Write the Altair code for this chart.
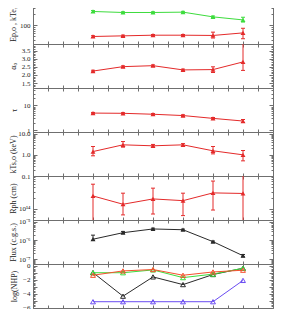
import altair as alt
import pandas as pd

# ---------------- data ----------------
x_pos = [2, 3, 4, 5, 6, 7]

ep_o = [48.5, 50.5, 52.7, 52.7, 51.8, 61.0]
ep_o_lo = [46.0, 48.5, 50.5, 50.5, 44.0, 42.0]
ep_o_hi = [51.0, 53.0, 55.0, 55.0, 64.0, 82.0]
kte_o = [240, 225, 225, 230, 170, 140]
kte_o_lo = [226, 215, 215, 220, 162, 122]
kte_o_hi = [256, 236, 236, 242, 180, 166]

alpha_o = [2.24, 2.51, 2.57, 2.31, 2.33, 2.80]
alpha_o_lo = [2.19, 2.46, 2.52, 2.26, 2.15, 2.28]
alpha_o_hi = [2.29, 2.56, 2.62, 2.36, 2.50, 4.50]

tau = [4.9, 4.8, 4.4, 3.9, 3.0, 2.35]
tau_lo = [4.6, 4.5, 4.1, 3.6, 2.8, 2.05]
tau_hi = [5.2, 5.1, 4.7, 4.2, 3.25, 2.7]

kts_o = [1.43, 2.97, 2.67, 2.97, 1.55, 1.00]
kts_o_lo = [0.90, 2.31, 2.35, 2.60, 1.11, 0.52]
kts_o_hi = [2.47, 4.25, 3.10, 3.40, 2.47, 1.60]

rph = [2.3e14, 1.35e14, 1.9e14, 1.7e14, 2.8e14, 2.7e14]
rph_lo = [1.0e13, 6.8e13, 7.2e13, 6.5e13, 9.3e13, 1.0e13]
rph_hi = [4.9e14, 2.75e14, 3.8e14, 2.75e14, 6.0e14, 1.2e15]

flux = [1.15e-6, 2.57e-6, 4.07e-6, 3.70e-6, 8.5e-7, 1.5e-7]
flux_lo = [1.0e-6, 2.3e-6, 3.7e-6, 3.4e-6, 7.9e-7, 1.3e-7]
flux_hi = [1.9e-6, 3.0e-6, 4.5e-6, 4.0e-6, 9.2e-7, 1.75e-7]

nhp_blue = [-5.15, -5.15, -5.15, -5.15, -5.15, -2.10]
nhp_black = [-0.98, -4.36, -1.60, -2.70, -1.26, -0.36]
nhp_green = [-1.00, -1.00, -0.60, -1.70, -1.20, -0.36]
nhp_red = [-1.36, -0.74, -0.54, -1.36, -0.89, -0.64]

# tick positions / labels
x_ticks = [0.5, 1.0, 1.5, 2.0, 2.5, 3.0, 3.5, 4.0, 4.5, 5.0, 5.5, 6.0, 6.5, 7.0, 7.5]
p1_major = [100]
p1_minor = [30, 40, 50, 60, 70, 80, 90, 200, 300, 400]
p2_major = [1.5, 2.0, 2.5, 3.0, 3.5]
p2_minor = [1.3, 1.4, 1.6, 1.7, 1.8, 1.9, 2.1, 2.2, 2.3, 2.4, 2.6, 2.7, 2.8, 2.9,
            3.1, 3.2, 3.3, 3.4, 3.6, 3.7, 3.8]
p3_major = [1, 10]
p3_minor = [2, 3, 4, 5, 6, 7, 8, 9, 20, 30, 40]
p4_major = [0.1, 1, 10]
p4_minor = [0.2, 0.3, 0.4, 0.5, 0.6, 0.7, 0.8, 0.9, 2, 3, 4, 5, 6, 7, 8, 9]
p5_major = [1e14]
p5_minor = [5e13, 6e13, 7e13, 8e13, 9e13, 2e14, 3e14, 4e14, 5e14, 6e14, 7e14, 8e14]
p6_major = [1e-7, 1e-6, 1e-5]
p6_minor = [6e-8, 7e-8, 8e-8, 9e-8, 2e-7, 3e-7, 4e-7, 5e-7, 6e-7, 7e-7, 8e-7, 9e-7,
            2e-6, 3e-6, 4e-6, 5e-6, 6e-6, 7e-6, 8e-6, 9e-6]
p7_major = [0, -1, -2, -3, -4, -5, -6]
p7_minor = [round(-6.0 + 0.2 * i, 1) for i in range(32)]

# ---------------- styling ----------------
RED = "#e42a2a"
GREEN = "#3ddc3d"
BLACK = "#2a2a2a"
BLUE = "#6a4cf2"
ORANGE = "#f5502e"
AX = "#6f6f6f"
TXT = "#222222"
FONT = "Liberation Serif"
W, H = 240, 44
XS = alt.Scale(domain=[0, 8], nice=False, zero=False)


def frame(names, vals, los, his):
    rows = []
    for n, v, lo, hi in zip(names, vals, los, his):
        for i, xv in enumerate(x_pos):
            rows.append({"x": xv, "v": v[i], "lo": lo[i], "hi": hi[i], "s": n})
    return pd.DataFrame(rows)


def xaxis(orient):
    return alt.Axis(orient=orient, values=x_ticks, labels=False, title=None,
                    tickSize=3, offset=-3, domain=False, grid=False,
                    tickColor=AX, tickWidth=1)


def yaxis(orient, values, size, title=None, title_x=None, fmt=None, expr=None):
    kw = dict(orient=orient, values=values, tickSize=size, offset=-size,
              domain=False, grid=False, tickColor=AX, tickWidth=1)
    if title is not None:
        kw.update(labels=True, labelFont=FONT, labelFontSize=7, labelColor=TXT,
                  labelPadding=3, title=title, titleFont=FONT, titleFontSize=8,
                  titleFontWeight="normal", titleColor=TXT, titleX=title_x)
        if fmt:
            kw["format"] = fmt
        if expr:
            kw["labelExpr"] = expr
    else:
        kw.update(labels=False, title=None)
    return alt.Axis(**kw)


def panel(df, names, colors, yscale, major, minor, title, title_x,
          fmt=None, expr=None, filled=True, errors=True):
    base = alt.Chart(df)
    xn = alt.X("x:Q", scale=XS, axis=None)
    layers = []
    # axis-only layers (invisible points)
    for xa, ya in [
        (xaxis("bottom"), yaxis("left", major, 4, title, title_x, fmt, expr)),
        (xaxis("top"), yaxis("left", minor, 2)),
        (None, yaxis("right", major, 4)),
        (None, yaxis("right", minor, 2)),
    ]:
        layers.append(base.mark_point(opacity=0, clip=True).encode(
            x=alt.X("x:Q", scale=XS, axis=xa),
            y=alt.Y("v:Q", scale=yscale, axis=ya)))
    for n, c in zip(names, colors):
        sub = alt.Chart(df[df["s"] == n])
        layers.append(sub.mark_line(strokeWidth=1, clip=True, color=c).encode(
            x=xn, y=alt.Y("v:Q", scale=yscale, axis=None), order="x:Q"))
        if errors:
            layers.append(sub.mark_rule(strokeWidth=1, clip=True, color=c).encode(
                x=xn, y=alt.Y("lo:Q", scale=yscale, axis=None), y2="hi:Q"))
            for f in ["lo", "hi"]:
                layers.append(sub.mark_tick(orient="horizontal", size=4, thickness=1,
                                            clip=True, color=c, opacity=1).encode(
                    x=xn, y=alt.Y(f + ":Q", scale=yscale, axis=None)))
        layers.append(sub.mark_point(shape="triangle-up", filled=filled, size=24,
                                     opacity=1, strokeWidth=1, clip=True, color=c).encode(
            x=xn, y=alt.Y("v:Q", scale=yscale, axis=None)))
    return alt.layer(*layers).resolve_axis(x="independent", y="independent").properties(
        width=W, height=H)


d1 = frame(["Ep", "kTe"], [ep_o, kte_o], [ep_o_lo, kte_o_lo], [ep_o_hi, kte_o_hi])
d2 = frame(["a"], [alpha_o], [alpha_o_lo], [alpha_o_hi])
d3 = frame(["t"], [tau], [tau_lo], [tau_hi])
d4 = frame(["k"], [kts_o], [kts_o_lo], [kts_o_hi])
d5 = frame(["r"], [rph], [rph_lo], [rph_hi])
d6 = frame(["f"], [flux], [flux_lo], [flux_hi])
d7 = frame(["blue", "black", "green", "red"],
           [nhp_blue, nhp_black, nhp_green, nhp_red],
           [nhp_blue, nhp_black, nhp_green, nhp_red],
           [nhp_blue, nhp_black, nhp_green, nhp_red])

log = lambda lo, hi: alt.Scale(type="log", domain=[lo, hi], nice=False)
lin = lambda lo, hi: alt.Scale(domain=[lo, hi], nice=False, zero=False)

p1 = panel(d1, ["Ep", "kTe"], [RED, GREEN], log(30, 500), p1_major, p1_minor,
           "Ep,o , kTe,o", -19.5, fmt="d")
p2 = panel(d2, ["a"], [RED], lin(1.2, 3.9), p2_major, p2_minor, "αₒ", -20, fmt=".1f")
p3 = panel(d3, ["t"], [RED], log(0.85, 50), p3_major, p3_minor, "τ", -18.5, fmt="d")
p4 = panel(d4, ["k"], [RED], log(0.1, 12), p4_major, p4_minor, "kTs,o (keV)", -19.5,
           fmt=".1f")
p5 = panel(d5, ["r"], [RED], log(4.9e13, 8.3e14), p5_major, p5_minor, "Rph (cm)", -19.5,
           expr="'10¹⁴'")
p6 = panel(d6, ["f"], [BLACK], log(5.4e-8, 1.23e-5), p6_major, p6_minor, "Flux (c.g.s.)",
           -19.5,
           expr="datum.value > 5e-6 ? '10⁻⁵' : (datum.value > 5e-7 ? '10⁻⁶' : '10⁻⁷')")
p7 = panel(d7, ["blue", "black", "green", "red"], [BLUE, BLACK, GREEN, ORANGE],
           lin(-6.05, 0.25), p7_major, p7_minor, "log(NHP)", -18.5, fmt="d",
           filled=False, errors=False)

chart = alt.vconcat(p1, p2, p3, p4, p5, p6, p7, spacing=0, bounds="flush").configure_view(
    stroke=AX, strokeWidth=1).properties(
    padding={"left": 0, "top": -9, "right": 0, "bottom": 0},
    background="white")

chart.save("out.html", embed_options={"renderer": "svg", "actions": False})
